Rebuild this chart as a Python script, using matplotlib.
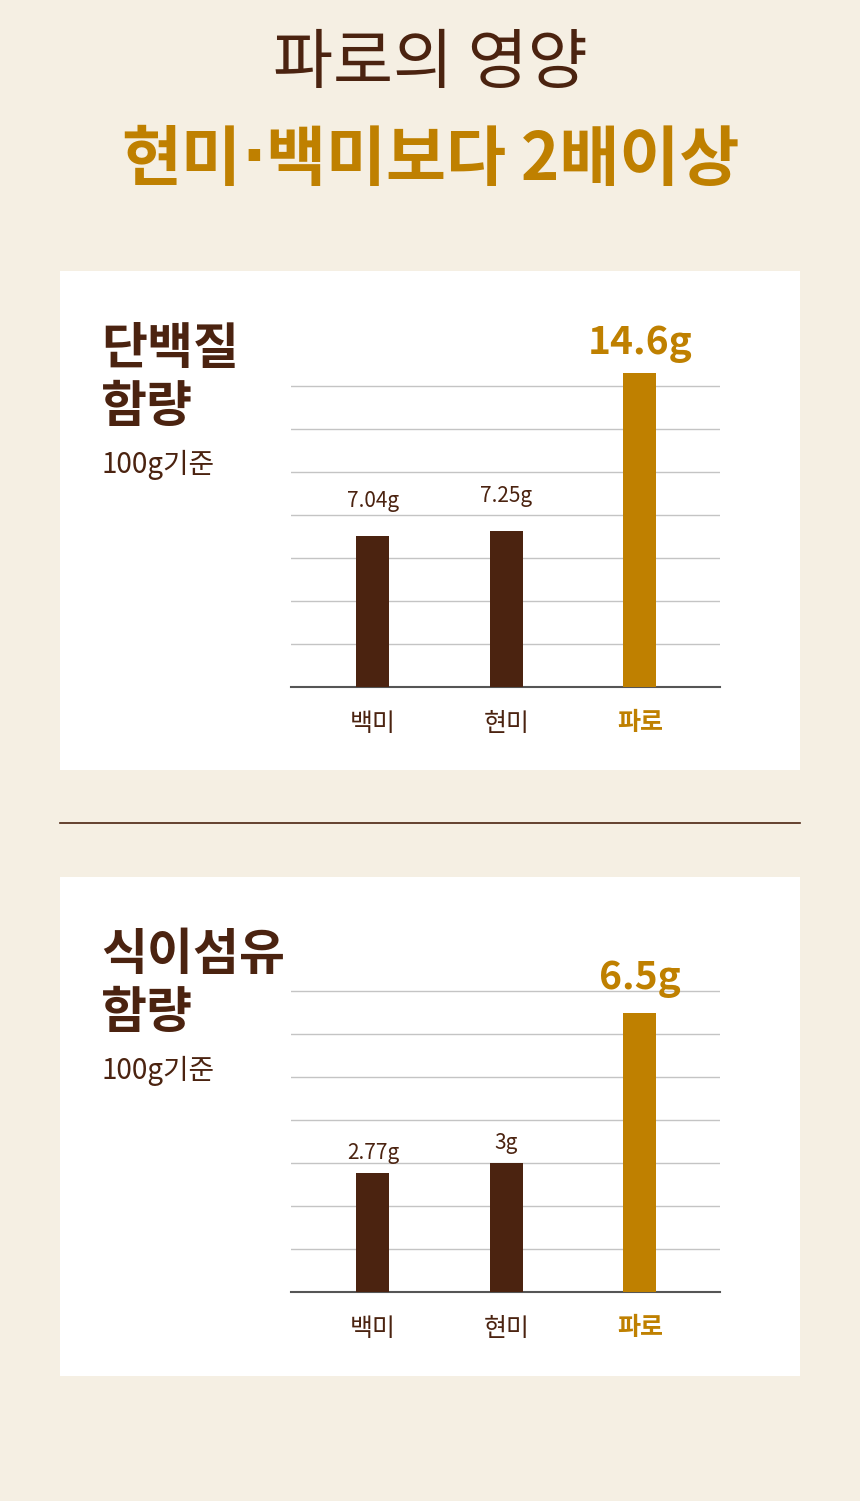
import matplotlib
matplotlib.use("Agg")
import matplotlib.pyplot as plt
from matplotlib.patches import Rectangle
from matplotlib.lines import Line2D

plt.rcParams['font.family'] = ['Noto Sans CJK KR', 'DejaVu Sans']

BG = '#F5EFE3'
BROWN = '#4B2310'
GOLD = '#BF8000'
GRID = '#C4C4C4'

# data
categories = ['백미', '현미', '파로']
protein = [7.04, 7.25, 14.6]
protein_labels = ['7.04g', '7.25g', '14.6g']
fiber = [2.77, 3.0, 6.5]
fiber_labels = ['2.77g', '3g', '6.5g']

W, H = 860, 1501
fig = plt.figure(figsize=(W / 100, H / 100), dpi=100, facecolor=BG)


def fy(y):
    # pixel from top -> figure fraction
    return 1 - y / H


def fx(x):
    return x / W


def ftext(x, y, s, size, color, weight='normal', ha='left', family=None):
    kw = {}
    if family:
        kw['family'] = family
    return fig.text(fx(x), fy(y), s, fontsize=size, color=color,
                    fontweight=weight, ha=ha, va='center', zorder=5, **kw)


# header
ftext(430, 65, '파로의 영양', 47, BROWN, ha='center')

# second line in pieces so the middle dot stays narrow
renderer = fig.canvas.get_renderer()
pieces = [('현미', None), ('·', ['DejaVu Sans']), ('백미보다 2배이상', None)]
arts = [ftext(0, 160, s, 47, GOLD, weight='bold', family=fam) for s, fam in pieces]
widths = [a.get_window_extent(renderer).width for a in arts]
x = 430 - sum(widths) / 2
for a, w in zip(arts, widths):
    a.set_x(fx(x))
    x += w

# white panels + separator
for top in (271, 877):
    fig.patches.append(Rectangle((fx(60), fy(top + 499)), fx(740), 499 / H,
                                 transform=fig.transFigure, facecolor='white',
                                 edgecolor='none', zorder=-1))
fig.lines.append(Line2D([fx(60), fx(800)], [fy(823), fy(823)],
                        transform=fig.transFigure, color=BROWN, lw=1.2))


def panel(title, values, labels, base_y, px_per_unit, step, ntick, title_y,
          small_off, big_off):
    ftext(101, title_y, title, 36, BROWN, weight='bold')
    ftext(101, title_y + 58, '함량', 36, BROWN, weight='bold')
    ftext(102, title_y + 116, '100g기준', 20, BROWN)

    top_val = step * ntick + step * 0.5
    h_px = top_val * px_per_unit
    ax = fig.add_axes([fx(291), fy(base_y), fx(720 - 291), h_px / H])
    ax.set_zorder(2)
    ax.set_facecolor('none')
    ax.set_xlim(-0.614, 2.6)
    ax.set_ylim(0, top_val)
    ax.set_yticks([step * i for i in range(1, ntick + 1)])
    ax.grid(axis='y', color=GRID, lw=1)
    ax.set_axisbelow(True)
    for s in ('top', 'left', 'right'):
        ax.spines[s].set_visible(False)
    ax.spines['bottom'].set_color('#555555')
    ax.spines['bottom'].set_linewidth(1.5)
    ax.tick_params(axis='y', length=0, labelleft=False)
    ax.tick_params(axis='x', length=0, pad=17)

    colors = [BROWN, BROWN, GOLD]
    ax.bar(range(3), values, width=0.247, color=colors, zorder=3)
    ax.set_xticks(range(3))
    ax.set_xticklabels(categories, fontsize=18, color=BROWN)
    last = ax.get_xticklabels()[2]
    last.set_color(GOLD)
    last.set_fontweight('bold')

    for i, (v, lab) in enumerate(zip(values, labels)):
        if i == 2:
            ax.annotate(lab, (i, v), xytext=(0, big_off), textcoords='offset pixels',
                        ha='center', va='center', fontsize=28, color=GOLD,
                        fontweight='bold', annotation_clip=False)
        else:
            ax.annotate(lab, (i, v), xytext=(0, small_off), textcoords='offset pixels',
                        ha='center', va='center', fontsize=15, color=BROWN,
                        annotation_clip=False)
    return ax


panel('단백질', protein, protein_labels, 687, 21.5, 2, 7, 349, 35, 30)
panel('식이섬유', fiber, fiber_labels, 1292, 43, 1, 7, 955, 20, 34)

fig.savefig('out.png', dpi=100, facecolor=BG)
